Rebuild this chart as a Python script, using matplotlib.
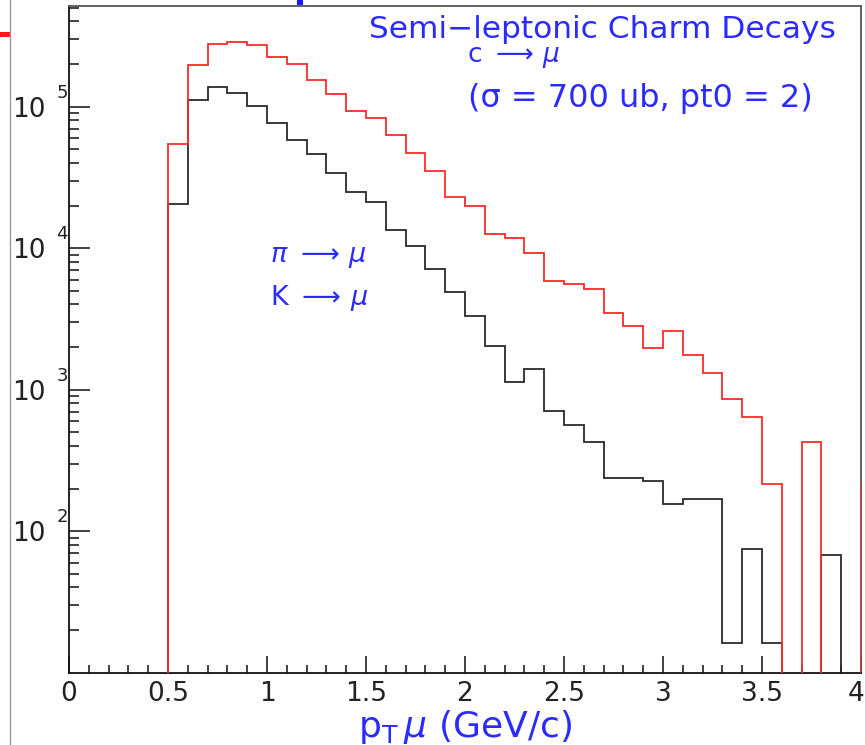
import numpy as np
import matplotlib
matplotlib.use("Agg")
import matplotlib.pyplot as plt
import matplotlib.transforms as mtransforms
from matplotlib.lines import Line2D
from matplotlib.patches import Rectangle

# ---- data (bin lower edges, width 0.1 GeV/c) ----
bin_edges = np.round(np.arange(0.5, 4.1001, 0.1), 2)
charm_mu = [5.46e4, 1.97e5, 2.77e5, 2.87e5, 2.72e5, 2.25e5, 1.99e5, 1.54e5, 1.23e5, 9.37e4,
            8.28e4, 6.34e4, 4.73e4, 3.50e4, 2.30e4, 1.99e4, 1.26e4, 1.18e4, 9.22e3, 5.82e3,
            5.61e3, 5.14e3, 3.48e3, 2.82e3, 1.96e3, 2.58e3, 1.75e3, 1.31e3, 865, 643,
            214, 0, 429, 0, 0, 214]
pik_mu = [2.06e4, 1.11e5, 1.37e5, 1.24e5, 1.01e5, 7.71e4, 5.82e4, 4.63e4, 3.42e4, 2.49e4,
          2.13e4, 1.35e4, 1.03e4, 7.11e3, 4.86e3, 3.30e3, 2.02e3, 1.13e3, 1.39e3, 711,
          567, 429, 238, 238, 228, 155, 168, 168, 16.3, 75.2,
          16.3, 0, 0, 67.8, 0, 0]
x_ticks = [0, 0.5, 1, 1.5, 2, 2.5, 3, 3.5, 4]
x_tick_labels = ["0", "0.5", "1", "1.5", "2", "2.5", "3", "3.5", "4"]
y_decades = [2, 3, 4, 5]

W, H = 865, 745
fig = plt.figure(figsize=(W / 100, H / 100), dpi=100)
L, R, T, B = 69, 861, 6, 672.7
ax = fig.add_axes([L / W, 1 - B / H, (R - L) / W, (B - T) / H])

floor = 1.0
def clipz(v):
    v = np.asarray(v, float)
    return np.where(v > 0, v, floor)

ax.set_yscale("log")
ax.stairs(clipz(pik_mu), bin_edges, baseline=floor, color="#2a2a2a", lw=1.3, zorder=2)
ax.stairs(clipz(charm_mu), bin_edges, baseline=floor, color="#ff2a2a", lw=1.3, zorder=3)

ax.set_xlim(0, 4)
ax.set_ylim(10, 10 ** 5.711)

tick_col = "#222222"
ax.set_xticks(x_ticks)
ax.set_xticklabels(x_tick_labels, fontsize=19, color=tick_col)
ax.set_xticks(np.round(np.arange(0, 4.0001, 0.1), 2), minor=True)
ax.set_yticks([10.0 ** d for d in y_decades])
ax.set_yticklabels(["10"] * len(y_decades), fontsize=19, color=tick_col)
ax.yaxis.set_minor_locator(matplotlib.ticker.LogLocator(base=10, subs=np.arange(2, 10)))
ax.yaxis.set_minor_formatter(matplotlib.ticker.NullFormatter())

# ROOT-style raised exponents next to the "10"s
ytrans = mtransforms.blended_transform_factory(ax.transAxes, ax.transData)
for d in y_decades:
    ax.annotate(str(d), xy=(0, 10.0 ** d), xycoords=ytrans, xytext=(-1, 14),
                textcoords="offset pixels", ha="right", va="center", fontsize=13,
                color=tick_col, annotation_clip=False)

ax.tick_params(axis="x", which="major", direction="in", length=12, width=1.2, pad=6,
               top=False, color=tick_col)
ax.tick_params(axis="x", which="minor", direction="in", length=6, width=1.2, top=False,
               color=tick_col)
ax.tick_params(axis="y", which="major", direction="in", length=15, width=1.2, pad=17,
               right=False, color=tick_col)
ax.tick_params(axis="y", which="minor", direction="in", length=7.5, width=1.2, right=False,
               color=tick_col)

# keep the last x tick label ("4") inside the picture
last = ax.get_xticklabels()[-1]
last.set_transform(last.get_transform() + mtransforms.ScaledTranslation(-5 / 100, 0, fig.dpi_scale_trans))

for s in ["left", "bottom"]:
    ax.spines[s].set_color("#111111")
    ax.spines[s].set_linewidth(1.3)
for s in ["top", "right"]:
    ax.spines[s].set_color("#555555")
    ax.spines[s].set_linewidth(1.3)

blue = "#2b2bff"
ax.set_xlabel(r"$\mathregular{p_T}\,\mu$ (GeV/c)", fontsize=26, color=blue, labelpad=1)

def ftext(px, py, s, **kw):
    fig.text(px / W, 1 - py / H, s, color=blue, va="center", **kw)

ftext(369, 30, "Semi\u2212leptonic Charm Decays", fontsize=22.5, ha="left")
ftext(467, 57, r"c $\longrightarrow\,\mu$", fontsize=19, ha="left")
ftext(468, 98, "(\u03c3 = 700 ub, pt0 = 2)", fontsize=23, ha="left")
ftext(270, 257, r"$\pi\ \longrightarrow\,\mu$", fontsize=19.5, ha="left")
ftext(270, 298, r"K $\longrightarrow\,\mu$", fontsize=19.5, ha="left")

# slide decorations at the left edge / top
fig.add_artist(Line2D([10 / W, 10 / W], [0, 1], color="#999999", lw=1.0))
fig.add_artist(Rectangle((0, 1 - 37 / H), 10 / W, 5 / H, color="#ff1a1a", lw=0))
fig.add_artist(Rectangle((297 / W, 1 - 5 / H), 6 / W, 5 / H, color="#1a1aff", lw=0))

fig.savefig("out.png", dpi=100)
